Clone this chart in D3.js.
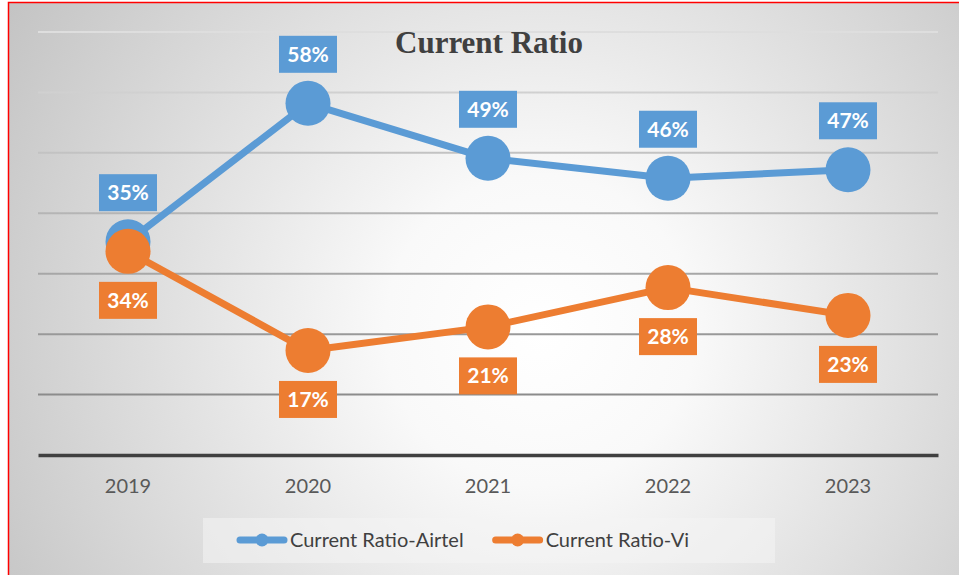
<!DOCTYPE html>
<html>
<head>
<meta charset="utf-8">
<script src="https://cdn.jsdelivr.net/npm/d3@7"></script>
<style>
  body { margin: 0; background: #fff; }
  svg { display: block; font-family: Lato, "Open Sans", sans-serif; }
</style>
</head>
<body>
<div id="chart"></div>
<script>
// data
var years = ["2019", "2020", "2021", "2022", "2023"];
var airtel = [0.353, 0.582, 0.491, 0.458, 0.472];
var vi = [0.337, 0.173, 0.212, 0.277, 0.231];
var seriesNames = ["Current Ratio-Airtel", "Current Ratio-Vi"];
var seriesColors = ["#5B9BD5", "#ED7D31"];
var yTicks = [0, 0.1, 0.2, 0.3, 0.4, 0.5, 0.6, 0.7];

var W = 959, H = 575;
var plot = {left: 38, right: 938, top: 32, bottom: 455};

var series = seriesNames.map(function(name, i) {
  return {name: name, color: seriesColors[i], values: i === 0 ? airtel : vi};
});

var svg = d3.select("#chart").append("svg")
    .attr("width", W)
    .attr("height", H);

var defs = svg.append("defs");

// radial background like the excel preset
var bg = defs.append("radialGradient")
    .attr("id", "bg")
    .attr("gradientUnits", "userSpaceOnUse")
    .attr("cx", 540).attr("cy", 330).attr("r", 620);
bg.append("stop").attr("offset", "0").attr("stop-color", "#ffffff");
bg.append("stop").attr("offset", "0.25").attr("stop-color", "#f9f9f9");
bg.append("stop").attr("offset", "1").attr("stop-color", "#c4c4c4");

// gridlines get darker towards the bottom
var gg = defs.append("linearGradient")
    .attr("id", "grid")
    .attr("gradientUnits", "userSpaceOnUse")
    .attr("x1", 0).attr("x2", 0).attr("y1", plot.top).attr("y2", 400);
gg.append("stop").attr("offset", "0").attr("stop-color", "#dedede");
gg.append("stop").attr("offset", "1").attr("stop-color", "#8a8a8a");

svg.append("rect")
    .attr("x", 8.5).attr("y", 2.5)
    .attr("width", W + 10).attr("height", H + 10)
    .attr("fill", "url(#bg)")
    .attr("stroke", "#ff0000")
    .attr("stroke-width", 1.5);

var x = d3.scaleBand()
    .domain(years)
    .range([plot.left, plot.right]);

var y = d3.scaleLinear()
    .domain([0, 0.7])
    .range([plot.bottom, plot.top]);

var cx = function(d, i) { return x(years[i]) + x.bandwidth() / 2; };

// gridlines
svg.append("g")
  .selectAll("line")
  .data(yTicks.filter(function(t) { return t > 0; }))
  .enter().append("line")
    .attr("x1", plot.left).attr("x2", plot.right)
    .attr("y1", function(d) { return y(d); })
    .attr("y2", function(d) { return y(d); })
    .attr("stroke", "url(#grid)")
    .attr("stroke-width", 2);

// x axis
var xAxis = svg.append("g")
    .attr("transform", "translate(0," + y(0) + ")")
    .call(d3.axisBottom(x).tickSize(0).tickPadding(24));
xAxis.select(".domain")
    .attr("stroke", "#404040")
    .attr("stroke-width", 3.5);
xAxis.selectAll("text")
    .attr("fill", "#595959")
    .style("font-size", "20px")
    .style("font-family", "Lato, sans-serif");

// title
svg.append("text")
    .attr("x", 489).attr("y", 53)
    .attr("text-anchor", "middle")
    .attr("fill", "#404040")
    .style("font-family", "'Liberation Serif', 'Times New Roman', serif")
    .style("font-weight", "bold")
    .style("font-size", "31px")
    .text("Current Ratio");

var line = d3.line()
    .x(cx)
    .y(function(d) { return y(d); });

var fmt = d3.format(".0%");

series.forEach(function(s, si) {
  var g = svg.append("g");

  g.append("path")
    .datum(s.values)
    .attr("fill", "none")
    .attr("stroke", s.color)
    .attr("stroke-width", 7)
    .attr("stroke-linejoin", "round")
    .attr("d", line);

  g.selectAll("circle")
    .data(s.values)
    .enter().append("circle")
      .attr("cx", cx)
      .attr("cy", function(d) { return y(d); })
      .attr("r", 22.5)
      .attr("fill", s.color);

  // data labels: above for airtel, below for vi
  var off = si === 0 ? -49 : 49;
  var lab = g.selectAll(".lab")
    .data(s.values)
    .enter().append("g")
      .attr("class", "lab")
      .attr("transform", function(d, i) {
        return "translate(" + cx(d, i) + "," + (y(d) + off) + ")";
      });
  lab.append("rect")
      .attr("x", -29).attr("y", -18.5)
      .attr("width", 58).attr("height", 37)
      .attr("fill", s.color);
  lab.append("text")
      .attr("text-anchor", "middle")
      .attr("dy", "0.36em")
      .attr("fill", "#ffffff")
      .style("font-size", "21px")
      .style("font-weight", "bold")
      .text(function(d) { return fmt(d); });
});

// legend
var legend = svg.append("g");
legend.append("rect")
    .attr("x", 203).attr("y", 518)
    .attr("width", 572).attr("height", 45)
    .attr("fill", "#f4f4f4")
    .attr("fill-opacity", 0.55);

var lx = 240, ly = 540;
series.forEach(function(s) {
  var item = legend.append("g").attr("transform", "translate(" + lx + "," + ly + ")");
  item.append("line")
      .attr("x1", 0).attr("x2", 44)
      .attr("stroke", s.color)
      .attr("stroke-width", 7)
      .attr("stroke-linecap", "round");
  item.append("circle")
      .attr("cx", 22).attr("r", 6.5)
      .attr("fill", s.color);
  var t = item.append("text")
      .attr("x", 50)
      .attr("dy", "0.36em")
      .attr("fill", "#404040")
      .style("font-size", "20px")
      .text(s.name);
  lx += 50 + t.node().getComputedTextLength() + 32;
});
</script>
</body>
</html>
